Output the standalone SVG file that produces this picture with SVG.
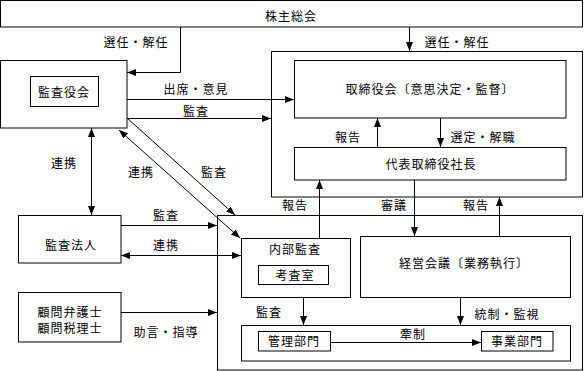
<svg xmlns="http://www.w3.org/2000/svg" width="584" height="371" viewBox="0 0 584 371">
<defs>
<style>
rect{fill:none;stroke:#000;stroke-width:1}
text{font-family:"Noto Sans CJK JP","Noto Sans CJK SC",sans-serif;font-size:12px;letter-spacing:1px;fill:#000;text-anchor:middle}
.c line,.c polyline{stroke:#000;stroke-width:1;fill:none}
.a{marker-end:url(#ah)}
.d{marker-end:url(#ah);marker-start:url(#ah)}
</style>
<marker id="ah" markerUnits="userSpaceOnUse" markerWidth="9" markerHeight="8" viewBox="0 0 9 8" refX="9" refY="4" orient="auto-start-reverse">
<path d="M0,0.5 L9,4 L0,7.5 z" fill="#000"/>
</marker>
</defs>
<rect x="0" y="0" width="584" height="371" style="fill:#fff;stroke:none"/>

<g id="shareholders">
<rect x="0.5" y="0.5" width="582" height="26.5"/>
<text x="291" y="21">株主総会</text>
</g>

<g id="auditors-board">
<rect x="0.5" y="60.5" width="126.5" height="67.5"/>
<rect x="30.5" y="76.5" width="68" height="30"/>
<text x="64" y="97">監査役会</text>
</g>

<g id="board-area">
<rect x="271.5" y="51.5" width="311" height="145.5"/>
</g>

<g id="board">
<rect x="294.5" y="60.5" width="271.5" height="57.5"/>
<text x="430" y="94">取締役会〔意思決定・監督〕</text>
</g>

<g id="president">
<rect x="294.5" y="147.5" width="271.5" height="32.5"/>
<text x="431" y="169">代表取締役社長</text>
</g>

<g id="audit-firm">
<rect x="18.5" y="215.5" width="102.5" height="47.5"/>
<text x="71" y="250">監査法人</text>
</g>

<g id="advisors">
<rect x="18.5" y="292.5" width="102.5" height="49.5"/>
<text x="70" y="317">顧問弁護士</text>
<text x="70" y="333">顧問税理士</text>
</g>

<g id="operations-area">
<rect x="217.5" y="215.5" width="365" height="154.5"/>
</g>

<g id="internal-audit">
<rect x="241.5" y="238.5" width="109" height="59"/>
<text x="295" y="254">内部監査</text>
</g>

<g id="audit-office">
<rect x="258.5" y="265.5" width="70" height="19"/>
<text x="295" y="280">考査室</text>
</g>

<g id="management-meeting">
<rect x="360.5" y="236.5" width="210" height="61"/>
<text x="464" y="268">経営会議〔業務執行〕</text>
</g>

<g id="departments">
<rect x="241.5" y="325.5" width="329" height="35.5"/>
</g>

<g id="admin-dept">
<rect x="258.5" y="331.5" width="72" height="19.5"/>
<text x="294" y="346">管理部門</text>
</g>

<g id="business-dept">
<rect x="481.5" y="331.5" width="71.5" height="19.5"/>
<text x="517" y="346">事業部門</text>
</g>

<g id="connectors" class="c">
<polyline class="a" points="180.5,27 180.5,72.5 127,72.5"/>
<line class="a" x1="409.5" y1="27" x2="409.5" y2="51"/>
<line class="a" x1="127" y1="99.5" x2="294" y2="99.5"/>
<line class="a" x1="127" y1="118.5" x2="271" y2="118.5"/>
<line class="a" x1="377.5" y1="147" x2="377.5" y2="118"/>
<line class="a" x1="440.5" y1="118" x2="440.5" y2="147"/>
<line class="d" x1="91.5" y1="128" x2="91.5" y2="215"/>
<line class="d" x1="119" y1="130" x2="240" y2="238"/>
<line class="a" x1="127" y1="118" x2="235" y2="215"/>
<line class="a" x1="121" y1="225.5" x2="217" y2="225.5"/>
<line class="d" x1="121" y1="255.5" x2="241" y2="255.5"/>
<line class="a" x1="121" y1="312.5" x2="217" y2="312.5"/>
<line class="a" x1="319.5" y1="238" x2="319.5" y2="180"/>
<line class="a" x1="414.5" y1="180" x2="414.5" y2="236"/>
<line class="a" x1="499.5" y1="236" x2="499.5" y2="197"/>
<line class="a" x1="303.5" y1="298" x2="303.5" y2="325"/>
<line class="a" x1="460.5" y1="297" x2="460.5" y2="325"/>
<line class="a" x1="331" y1="342.5" x2="481" y2="342.5"/>
</g>

<g id="labels">
<text x="136" y="47">選任・解任</text>
<text x="457" y="47">選任・解任</text>
<text x="196" y="94">出席・意見</text>
<text x="196" y="116">監査</text>
<text x="348" y="142">報告</text>
<text x="483" y="142">選定・解職</text>
<text x="64" y="168">連携</text>
<text x="141" y="177">連携</text>
<text x="214" y="177">監査</text>
<text x="166" y="220">監査</text>
<text x="166" y="250">連携</text>
<text x="166" y="337">助言・指導</text>
<text x="295" y="210">報告</text>
<text x="394" y="210">審議</text>
<text x="476" y="210">報告</text>
<text x="269" y="317">監査</text>
<text x="507" y="319">統制・監視</text>
<text x="413" y="339">牽制</text>
</g>
</svg>
